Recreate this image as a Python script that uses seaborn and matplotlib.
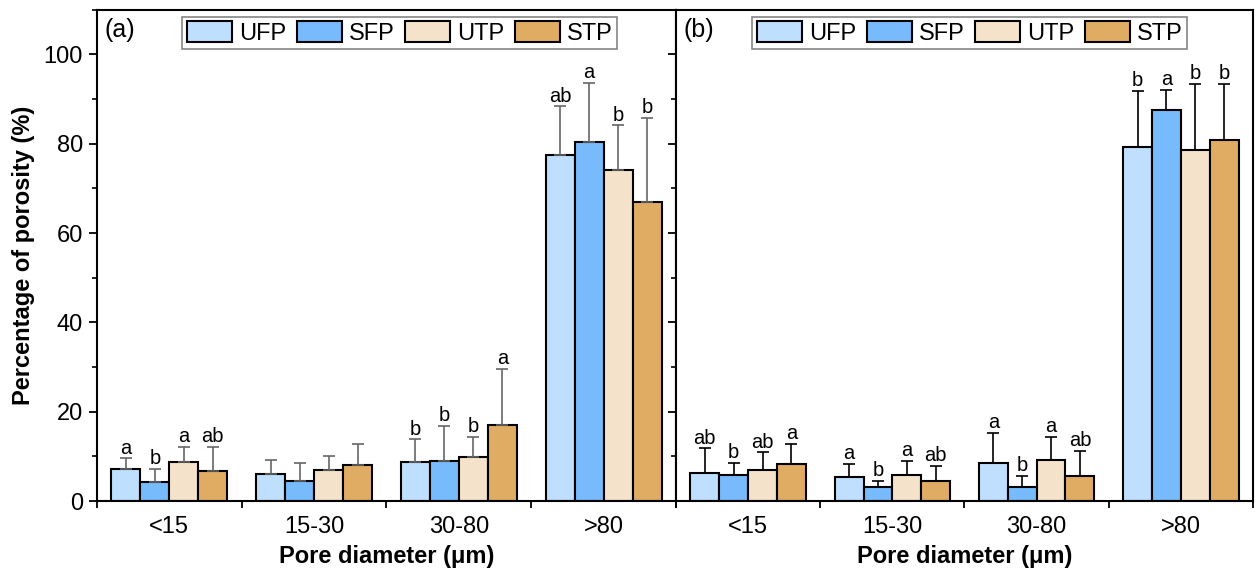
import pandas as pd
import matplotlib.pyplot as plt
import seaborn as sns
from matplotlib.patches import Patch
from matplotlib.ticker import MultipleLocator, FixedLocator

sns.set_style('ticks')
plt.rcParams['font.family'] = ['Liberation Sans', 'DejaVu Sans']
plt.rcParams.update({'text.color': 'black', 'axes.labelcolor': 'black',
                     'xtick.color': 'black', 'ytick.color': 'black'})

pores = ["<15", "15-30", "30-80", ">80"]
treatments = ["UFP", "SFP", "UTP", "STP"]
colors = ["#BFDFFF", "#78BBFC", "#F5E2CA", "#E0AC63"]

# rows = treatments, columns = pore classes
means_a = [[7.1, 6.1, 8.7, 77.4],
           [4.3, 4.6, 9.0, 80.3],
           [8.7, 7.0, 9.8, 74.1],
           [6.8, 8.1, 17.0, 66.9]]
err_a = [[2.5, 3.1, 5.1, 11.0],
         [2.9, 4.0, 7.8, 13.3],
         [3.5, 3.1, 4.6, 10.0],
         [5.4, 4.8, 12.6, 18.9]]
letters_a = [["a", "", "b", "ab"],
             ["b", "", "b", "a"],
             ["a", "", "b", "b"],
             ["ab", "", "a", "b"]]

means_b = [[6.3, 5.4, 8.6, 79.3],
           [5.8, 3.1, 3.1, 87.5],
           [7.0, 5.8, 9.2, 78.5],
           [8.3, 4.6, 5.6, 80.8]]
err_b = [[5.5, 2.9, 6.7, 12.5],
         [2.8, 1.4, 2.5, 4.5],
         [3.9, 3.2, 5.2, 14.9],
         [4.5, 3.3, 5.6, 12.6]]
letters_b = [["ab", "a", "a", "b"],
             ["b", "b", "b", "a"],
             ["ab", "a", "a", "b"],
             ["a", "ab", "ab", "b"]]


def to_frame(means):
    rows = []
    for t, vals in zip(treatments, means):
        for p, v in zip(pores, vals):
            rows.append({"pore": p, "treatment": t, "value": v})
    return pd.DataFrame(rows)


def draw_panel(ax, means, errs, letters, tag, ecolor, legend_x, show_ylabels):
    df = to_frame(means)
    sns.barplot(data=df, x="pore", y="value", hue="treatment", order=pores,
                hue_order=treatments, palette=colors, saturation=1,
                edgecolor="black", linewidth=1.5, errorbar=None, width=0.8,
                legend=False, ax=ax)
    bar_groups = list(ax.containers)
    for j, cont in enumerate(bar_groups):
        for i, bar in enumerate(cont):
            x = bar.get_x() + bar.get_width() / 2
            h = bar.get_height()
            e = errs[j][i]
            ax.errorbar(x, h, yerr=[[0], [e]], fmt="none", ecolor=ecolor,
                        elinewidth=1.2, capsize=4.5, capthick=1.2, zorder=1)
            if letters[j][i]:
                ax.annotate(letters[j][i], (x, h + e), xytext=(0, 0.5),
                            textcoords="offset points", ha="center",
                            va="bottom", fontsize=14.5)

    ax.set_xlim(-0.5, 3.5)
    ax.set_ylim(0, 110)
    ax.xaxis.set_major_locator(FixedLocator([-0.5, 0.5, 1.5, 2.5, 3.5]))
    ax.xaxis.set_minor_locator(FixedLocator([0, 1, 2, 3]))
    ax.set_xticklabels([])
    ax.set_xticklabels(pores, minor=True, fontsize=17)
    ax.tick_params(axis="x", which="minor", length=0, pad=11)
    ax.tick_params(axis="x", which="major", length=5, width=1.3, direction="out")
    ax.yaxis.set_major_locator(MultipleLocator(20))
    ax.yaxis.set_minor_locator(MultipleLocator(10))
    ax.tick_params(axis="y", which="major", length=6, width=1.3,
                   direction="out", labelsize=17, pad=4)
    ax.tick_params(axis="y", which="minor", length=3.5, width=1.2, direction="out")
    if not show_ylabels:
        ax.set_yticklabels([])
        ax.set_ylabel("")
    else:
        ax.set_ylabel("Percentage of porosity (%)", fontsize=17,
                      fontweight="bold", labelpad=6)
    ax.set_xlabel("Pore diameter (μm)", fontsize=17, fontweight="bold",
                  labelpad=5)
    for s in ax.spines.values():
        s.set_visible(True)
        s.set_linewidth(1.5)
        s.set_color("black")

    ax.text(0.013, 0.958, tag, transform=ax.transAxes, fontsize=18,
            ha="left", va="center")
    handles = [Patch(facecolor=c, edgecolor="black", linewidth=1.5)
               for c in colors]
    leg = ax.legend(handles, treatments, loc="upper center",
                    bbox_to_anchor=(legend_x, 0.986), ncol=4, fontsize=17,
                    frameon=True, fancybox=False, handlelength=1.9,
                    handleheight=0.95, handletextpad=0.3, columnspacing=0.45,
                    borderpad=0.2, borderaxespad=0)
    leg.get_frame().set_edgecolor("#666666")
    leg.get_frame().set_linewidth(1.2)


fig = plt.figure(figsize=(12.56, 5.76), dpi=100)
ax1 = fig.add_axes([0.0772, 0.130, 0.4610, 0.853])
ax2 = fig.add_axes([0.5382, 0.130, 0.4594, 0.853])

draw_panel(ax1, means_a, err_a, letters_a, "(a)", "#666666", 0.523, True)
draw_panel(ax2, means_b, err_b, letters_b, "(b)", "black", 0.509, False)

fig.savefig("out.png", dpi=100)
